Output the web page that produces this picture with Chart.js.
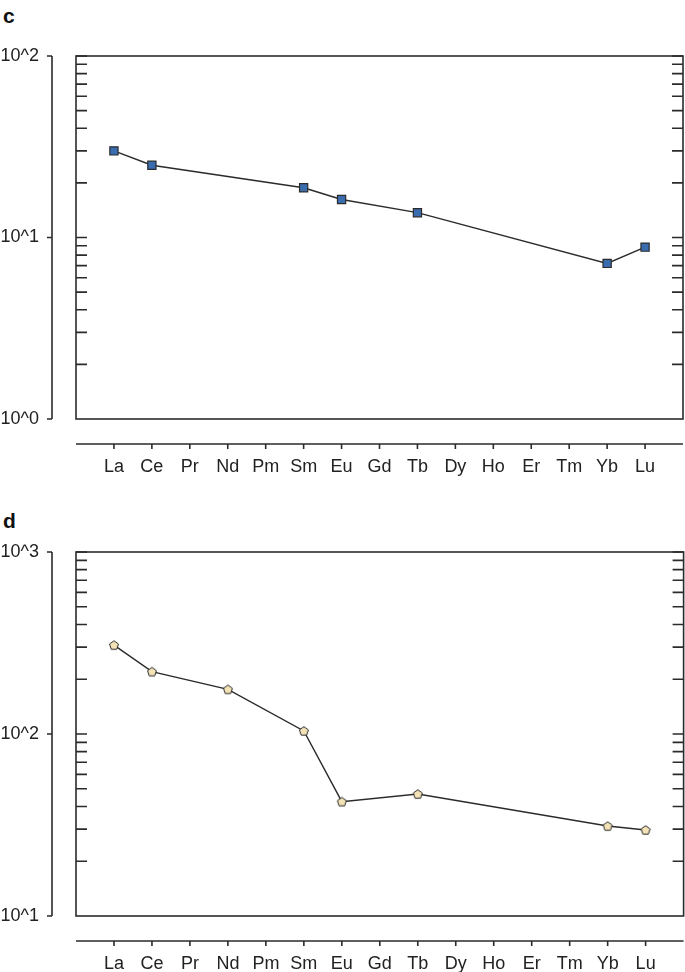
<!DOCTYPE html>
<html>
<head>
<meta charset="utf-8">
<script src="https://cdn.jsdelivr.net/npm/chart.js@4"></script>
<style>
  body { margin: 0; background: #fff; width: 685px; height: 972px; position: relative; overflow: hidden; }
  .panel { position: absolute; left: 0; }
  .tag { position: absolute; left: 3px; font: bold 21px "Liberation Sans", Arial, sans-serif; color: #111; }
</style>
</head>
<body>
<div class="tag" style="top:4px">c</div>
<div class="tag" style="top:509px">d</div>
<canvas id="chartC" class="panel" style="top:0" width="690" height="486"></canvas>
<canvas id="chartD" class="panel" style="top:486px" width="690" height="486"></canvas>
<script>
// REE-Elemente, x-Position = Index + 1
const elements = ['La', 'Ce', 'Pr', 'Nd', 'Pm', 'Sm', 'Eu', 'Gd', 'Tb', 'Dy', 'Ho', 'Er', 'Tm', 'Yb', 'Lu'];
const valuesC = [30, 25, null, null, null, 18.8, 16.2, null, 13.7, null, null, null, null, 7.2, 8.85];
const valuesD = [308, 220, null, 176, null, 104, 42.5, null, 46.8, null, null, null, null, 31.2, 29.7];
const rangeC = [1, 100];
const rangeD = [10, 1000];

const FONT = '"Liberation Sans", Arial, Helvetica, sans-serif';
const INK = '#2b2b2b';

function toPoints(values) {
    return values
        .map((v, i) => (v === null ? null : { x: i + 1, y: v }))
        .filter((p) => p !== null);
}

// Fuenfeck-Marker (Chart.js hat keinen eigenen)
function pentagon(fill) {
    const c = document.createElement('canvas');
    c.width = 12; c.height = 12;
    const g = c.getContext('2d');
    g.beginPath();
    for (let i = 0; i < 5; i++) {
        const t = -Math.PI / 2 + i * 2 * Math.PI / 5;
        g.lineTo(6 + 4.7 * Math.cos(t), 6.4 + 4.7 * Math.sin(t));
    }
    g.closePath();
    g.fillStyle = fill;
    g.fill();
    g.strokeStyle = INK;
    g.lineWidth = 1;
    g.stroke();
    return c;
}

// Rahmen, abgesetzte Achsen und kleine Log-Striche
const frame = {
    id: 'frame',
    afterDraw(chart) {
        const { ctx, chartArea: a, scales: { x, y } } = chart;
        ctx.save();
        ctx.strokeStyle = INK;
        ctx.lineWidth = 1.6;
        ctx.strokeRect(a.left, a.top, a.right - a.left, a.bottom - a.top);

        // linke Achse, abgesetzt
        const ax = a.left - 24;
        ctx.beginPath();
        ctx.moveTo(ax, y.getPixelForValue(y.max));
        ctx.lineTo(ax, y.getPixelForValue(y.min));
        const d0 = Math.round(Math.log10(y.min));
        const d1 = Math.round(Math.log10(y.max));
        for (let d = d0; d <= d1; d++) {
            const py = y.getPixelForValue(Math.pow(10, d));
            ctx.moveTo(ax, py);
            ctx.lineTo(ax - 5, py);
        }
        ctx.stroke();

        // innere Striche links und rechts
        ctx.beginPath();
        for (let d = d0; d < d1; d++) {
            for (let m = 1; m <= 10; m++) {
                if (d === d0 && m === 1) continue;
                const py = y.getPixelForValue(m * Math.pow(10, d));
                ctx.moveTo(a.left, py); ctx.lineTo(a.left + 11, py);
                ctx.moveTo(a.right, py); ctx.lineTo(a.right - 11, py);
            }
        }
        ctx.stroke();

        // untere Achse, abgesetzt
        const by = a.bottom + 25;
        ctx.beginPath();
        ctx.moveTo(a.left, by);
        ctx.lineTo(a.right, by);
        elements.forEach((e, i) => {
            const px = x.getPixelForValue(i + 1);
            ctx.moveTo(px, by);
            ctx.lineTo(px, by + 5);
        });
        ctx.stroke();
        ctx.restore();
    }
};

function makeChart(id, values, range, marker, topPad, xHeight) {
    return new Chart(document.getElementById(id), {
        type: 'line',
        data: {
            datasets: [{
                data: toPoints(values),
                borderColor: INK,
                borderWidth: 1.4,
                tension: 0,
                fill: false,
                ...marker
            }]
        },
        options: {
            responsive: false,
            animation: false,
            layout: { padding: { top: topPad, right: 2, left: 0, bottom: 0 } },
            plugins: { legend: { display: false }, tooltip: { enabled: false } },
            scales: {
                x: {
                    type: 'linear',
                    min: 0,
                    max: elements.length + 1,
                    grid: { display: false, drawTicks: false },
                    border: { display: false },
                    afterFit: (s) => {
                        s.height = xHeight;
                        s.paddingLeft = 0;
                        s.paddingRight = 0;
                    },
                    ticks: {
                        stepSize: 1,
                        autoSkip: false,
                        maxRotation: 0,
                        padding: 37,
                        color: '#222',
                        font: { family: FONT, size: 18 },
                        callback: (v) => elements[v - 1] || ''
                    }
                },
                y: {
                    type: 'logarithmic',
                    min: range[0],
                    max: range[1],
                    grid: { display: false, drawTicks: false },
                    border: { display: false },
                    afterFit: (s) => {
                        s.width = 76;
                        s.paddingTop = 0;
                        s.paddingBottom = 0;
                    },
                    ticks: {
                        autoSkip: false,
                        padding: 37,
                        color: '#222',
                        font: { family: FONT, size: 18 },
                        callback: (v) => {
                            const p = Math.log10(v);
                            return Math.abs(p - Math.round(p)) < 1e-9 ? '10^' + Math.round(p) : '';
                        }
                    }
                }
            }
        },
        plugins: [frame]
    });
}

makeChart('chartC', valuesC, rangeC, {
    pointStyle: 'rect',
    pointRadius: 5.8,
    pointBackgroundColor: '#3a6db0',
    pointBorderColor: INK,
    pointBorderWidth: 1.2
}, 56, 67);

makeChart('chartD', valuesD, rangeD, {
    pointStyle: pentagon('#f3e3b6'),
    pointRadius: 5
}, 66, 56);
</script>
</body>
</html>
